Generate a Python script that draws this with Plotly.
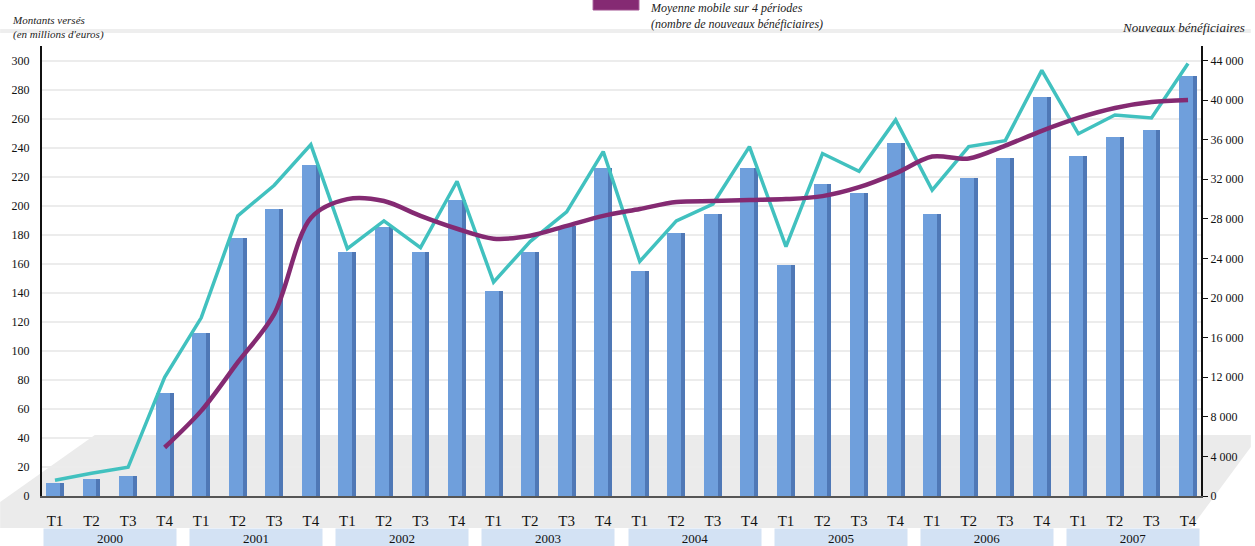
import plotly.graph_objects as go

# ---------------- data ----------------
quarters = ["T1", "T2", "T3", "T4"] * 8
years = ["2000", "2001", "2002", "2003", "2004", "2005", "2006", "2007"]

# Montants versés (millions d'euros) - left axis
montants = [9, 12, 14, 71,
            112, 178, 198, 228,
            168, 185, 168, 204,
            141, 168, 186, 226,
            155, 181, 194, 226,
            159, 215, 209, 243,
            194, 219, 233, 275,
            234, 247, 252, 289]

# Nouveaux bénéficiaires - right axis
nouveaux = [1600, 2300, 2900, 12000,
            18000, 28300, 31400, 35500,
            25000, 27800, 25100, 31800,
            21600, 25700, 28700, 34800,
            23700, 27800, 29500, 35300,
            25200, 34600, 32800, 38000,
            30900, 35300, 35900, 43000,
            36600, 38500, 38200, 43700]

# Moyenne mobile sur 4 périodes - right axis
moyenne = [None, None, None, 4900,
           8600, 13500, 18400, 28100,
           30000, 29800, 28300, 27000,
           26000, 26300, 27300, 28300,
           29000, 29700, 29800, 29900,
           30000, 30300, 31200, 32600,
           34300, 34100, 35400, 36900,
           38200, 39200, 39800, 40000]

left_ticks = list(range(0, 301, 20))
right_ticks = list(range(0, 44001, 4000))
right_labels = ["0" if v == 0 else f"{v // 1000} 000" for v in right_ticks]

# ---------------- layout constants ----------------
W, H = 1255, 546
ML, MR, MT, MB = 42, 50, 46, 50
PW, PH = W - ML - MR, H - MT - MB
YMAX = 310
Y2MAX = YMAX * 44000 / 300

def px_x(px):
    return (px - ML) / PW

def px_y(py):
    return (H - MB - py) / PH

serif = "Liberation Serif"
x = list(range(len(montants)))

fig = go.Figure()

# bars: light body + darker right strip
fig.add_trace(go.Bar(x=x, y=montants, width=0.38, offset=-0.245,
                     marker=dict(color="#6f9fdc", line=dict(width=0)),
                     name="Montants versés", showlegend=False))
fig.add_trace(go.Bar(x=x, y=montants, width=0.11, offset=0.135,
                     marker=dict(color="#4f78b6", line=dict(width=0)),
                     showlegend=False, hoverinfo="skip"))

fig.add_trace(go.Scatter(x=x, y=nouveaux, yaxis="y2", mode="lines",
                         line=dict(color="#41c1bf", width=3.5),
                         name="Nouveaux bénéficiaires", showlegend=False))
fig.add_trace(go.Scatter(x=x, y=moyenne, yaxis="y2", mode="lines",
                         line=dict(color="#842a72", width=4.5, shape="spline", smoothing=0.9),
                         name="Moyenne mobile sur 4 périodes", showlegend=False))

shapes = []
# 3D floor
floor = [(0, 502), (95, 435), (1255, 435), (1255, 447), (1195, 528), (0, 528)]
path = "M " + " L ".join(f"{px_x(a):.5f},{px_y(b):.5f}" for a, b in floor) + " Z"
shapes.append(dict(type="path", xref="paper", yref="paper", path=path,
                   fillcolor="#ebebeb", line=dict(width=0), layer="below"))
# top edge of the back wall
shapes.append(dict(type="line", xref="paper", yref="paper",
                   x0=px_x(0), x1=px_x(W), y0=px_y(31), y1=px_y(31),
                   line=dict(color="#eeeeee", width=4), layer="below"))
# legend swatch (cut off at top like the reference)
shapes.append(dict(type="rect", xref="paper", yref="paper",
                   x0=px_x(595), x1=px_x(641), y0=px_y(10), y1=px_y(-4),
                   fillcolor="#852a73", line=dict(color="#a05090", width=1)))

annotations = []
for i, yr in enumerate(years):
    annotations.append(dict(x=4 * i + 1.5, xref="x", y=px_y(538), yref="paper",
                            text=yr, showarrow=False, width=130, height=16,
                            bgcolor="#d3e2f4", font=dict(family=serif, size=13, color="#111"),
                            xanchor="center", yanchor="middle"))
annotations.append(dict(x=px_x(10), y=px_y(12), xref="paper", yref="paper",
                        text="<i>Montants versés<br>(en millions d'euros)</i>",
                        showarrow=False, align="left", xanchor="left", yanchor="top",
                        font=dict(family=serif, size=11, color="#222")))
annotations.append(dict(x=px_x(1251), y=px_y(27), xref="paper", yref="paper",
                        text="<i>Nouveaux bénéficiaires</i>", showarrow=False,
                        xanchor="right", yanchor="middle",
                        font=dict(family=serif, size=13, color="#222")))
annotations.append(dict(x=px_x(650), y=px_y(-1), xref="paper", yref="paper",
                        text="<i>Moyenne mobile sur 4 périodes<br>(nombre de nouveaux bénéficiaires)</i>",
                        showarrow=False, align="left", xanchor="left", yanchor="top",
                        font=dict(family=serif, size=12, color="#222")))

fig.update_layout(
    width=W, height=H, autosize=False,
    margin=dict(l=ML, r=MR, t=MT, b=MB, pad=0),
    paper_bgcolor="white", plot_bgcolor="rgba(0,0,0,0)",
    barmode="overlay", bargap=0,
    showlegend=False,
    font=dict(family=serif, color="#111"),
    xaxis=dict(range=[-0.355, 31.355], tickmode="array", tickvals=x, ticktext=quarters,
               showgrid=False, zeroline=False, showline=True, linecolor="#555", linewidth=2,
               ticks="", tickfont=dict(family=serif, size=15, color="#111"),
               ticklabelstandoff=10),
    yaxis=dict(range=[0, YMAX], tickmode="array", tickvals=left_ticks,
               showgrid=True, gridcolor="#ececec", gridwidth=2, zeroline=False,
               showline=True, linecolor="#111", linewidth=2, ticks="",
               tickfont=dict(family=serif, size=12, color="#111"), ticklabelstandoff=8),
    yaxis2=dict(range=[0, Y2MAX], overlaying="y", side="right", tickmode="array",
                tickvals=right_ticks, ticktext=right_labels, showgrid=False, zeroline=False,
                showline=True, linecolor="#111", linewidth=2, ticks="outside", ticklen=5,
                tickcolor="#111", tickfont=dict(family=serif, size=12, color="#111")),
    shapes=shapes, annotations=annotations,
)

fig.write_html("out.html", config={"displayModeBar": False},
               post_script="document.body.style.margin='0';")
